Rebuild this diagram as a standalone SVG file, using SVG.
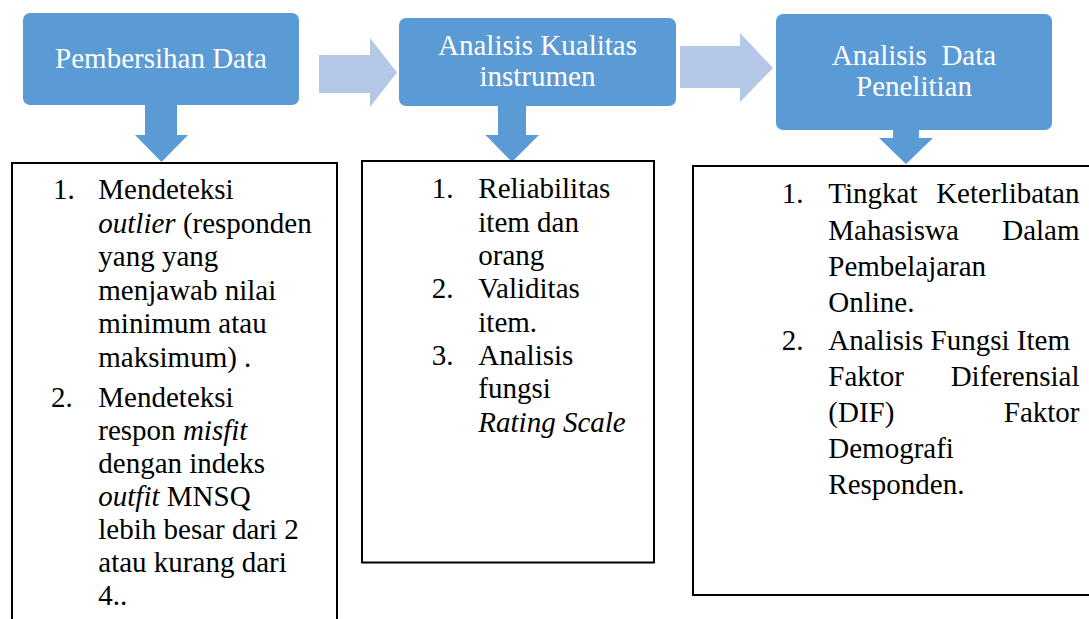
<svg xmlns="http://www.w3.org/2000/svg" width="1089" height="619" viewBox="0 0 1089 619">
<style>
.hdr{fill:#5B9BD5}
.arrD{fill:#5B9BD5}
.arrR{fill:#B4C7E7}
.tbox{fill:#FFFFFF;stroke:#000000;stroke-width:2}
.ht{font-family:"Liberation Serif","Times New Roman",serif;font-size:29px;fill:#FFFFFF;text-anchor:middle}
.bt{font-family:"Liberation Serif","Times New Roman",serif;font-size:29px;fill:#000000}
.it{font-style:italic}
.end{text-anchor:end}
</style>
<rect width="1089" height="619" fill="#FFFFFF"/>
<g id="connectors">
<polygon class="arrR" points="319,55 370,55 370,38 397,72.5 370,107 370,93 319,93"/>
<polygon class="arrR" points="680,46 740,46 740,33 773,68 740,102 740,88 680,88"/>
<polygon class="arrD" points="145,104 177,104 177,135 188,135 161.5,162 135,135 145,135"/>
<polygon class="arrD" points="498,105 526,105 526,135 539,135 512,162 485.5,135 498,135"/>
<polygon class="arrD" points="893,129 919,129 919,138 933,138 906,164 879,138 893,138"/>
</g>
<g id="node-pembersihan">
<rect class="hdr" x="23" y="13" width="276" height="92" rx="7"/>
<text class="ht" x="161" y="68">Pembersihan Data</text>
</g>
<g id="node-kualitas">
<rect class="hdr" x="399" y="18" width="277" height="88" rx="7"/>
<text class="ht" x="537.5" y="55">Analisis Kualitas</text>
<text class="ht" x="537.5" y="86">instrumen</text>
</g>
<g id="node-penelitian">
<rect class="hdr" x="776" y="14" width="276" height="116" rx="7"/>
<text class="ht" x="914" y="65" xml:space="preserve">Analisis  Data</text>
<text class="ht" x="914" y="96">Penelitian</text>
</g>
<g id="box-pembersihan">
<rect class="tbox" x="12" y="163" width="325" height="470"/>
<text class="bt" x="53" y="199.3">1.</text>
<text class="bt" x="98.3" y="199.3">Mendeteksi</text>
<text class="bt" x="98.3" y="232.8"><tspan class="it">outlier</tspan> (responden</text>
<text class="bt" x="98.3" y="266.3">yang yang</text>
<text class="bt" x="98.3" y="299.8">menjawab nilai</text>
<text class="bt" x="98.3" y="333.3">minimum atau</text>
<text class="bt" x="98.3" y="366.8">maksimum) .</text>
<text class="bt" x="51" y="406.7">2.</text>
<text class="bt" x="98.3" y="406.7">Mendeteksi</text>
<text class="bt" x="98.3" y="439.7">respon <tspan class="it">misfit</tspan></text>
<text class="bt" x="98.3" y="472.7">dengan indeks</text>
<text class="bt" x="98.3" y="505.7"><tspan class="it">outfit</tspan> MNSQ</text>
<text class="bt" x="98.3" y="538.7">lebih besar dari 2</text>
<text class="bt" x="98.3" y="571.7">atau kurang dari</text>
<text class="bt" x="98.3" y="604.7">4..</text>
</g>
<g id="box-kualitas">
<rect class="tbox" x="362" y="161" width="292" height="401.5"/>
<text class="bt" x="431.7" y="198.3">1.</text>
<text class="bt" x="478.3" y="198.3">Reliabilitas</text>
<text class="bt" x="478.3" y="231.7">item dan</text>
<text class="bt" x="478.3" y="265">orang</text>
<text class="bt" x="431.7" y="298.3">2.</text>
<text class="bt" x="478.3" y="298.3">Validitas</text>
<text class="bt" x="478.3" y="331.7">item.</text>
<text class="bt" x="431.7" y="365">3.</text>
<text class="bt" x="478.3" y="365">Analisis</text>
<text class="bt" x="478.3" y="398.3">fungsi</text>
<text class="bt it" x="478.3" y="432">Rating Scale</text>
</g>
<g id="box-penelitian">
<rect class="tbox" x="693" y="166" width="400" height="429"/>
<text class="bt" x="781.7" y="203.3">1.</text>
<text class="bt" x="828.3" y="203.3">Tingkat</text>
<text class="bt end" x="1079.5" y="203.3">Keterlibatan</text>
<text class="bt" x="828.3" y="239.5">Mahasiswa</text>
<text class="bt end" x="1079.5" y="239.5">Dalam</text>
<text class="bt" x="828.3" y="275.5">Pembelajaran</text>
<text class="bt" x="828.3" y="311.7">Online.</text>
<text class="bt" x="781.7" y="350">2.</text>
<text class="bt" x="828.3" y="350">Analisis Fungsi Item</text>
<text class="bt" x="828.3" y="386">Faktor</text>
<text class="bt end" x="1079.5" y="386">Diferensial</text>
<text class="bt" x="828.3" y="422">(DIF)</text>
<text class="bt end" x="1079.5" y="422">Faktor</text>
<text class="bt" x="828.3" y="457.5">Demografi</text>
<text class="bt" x="828.3" y="493.5">Responden.</text>
</g>
</svg>
